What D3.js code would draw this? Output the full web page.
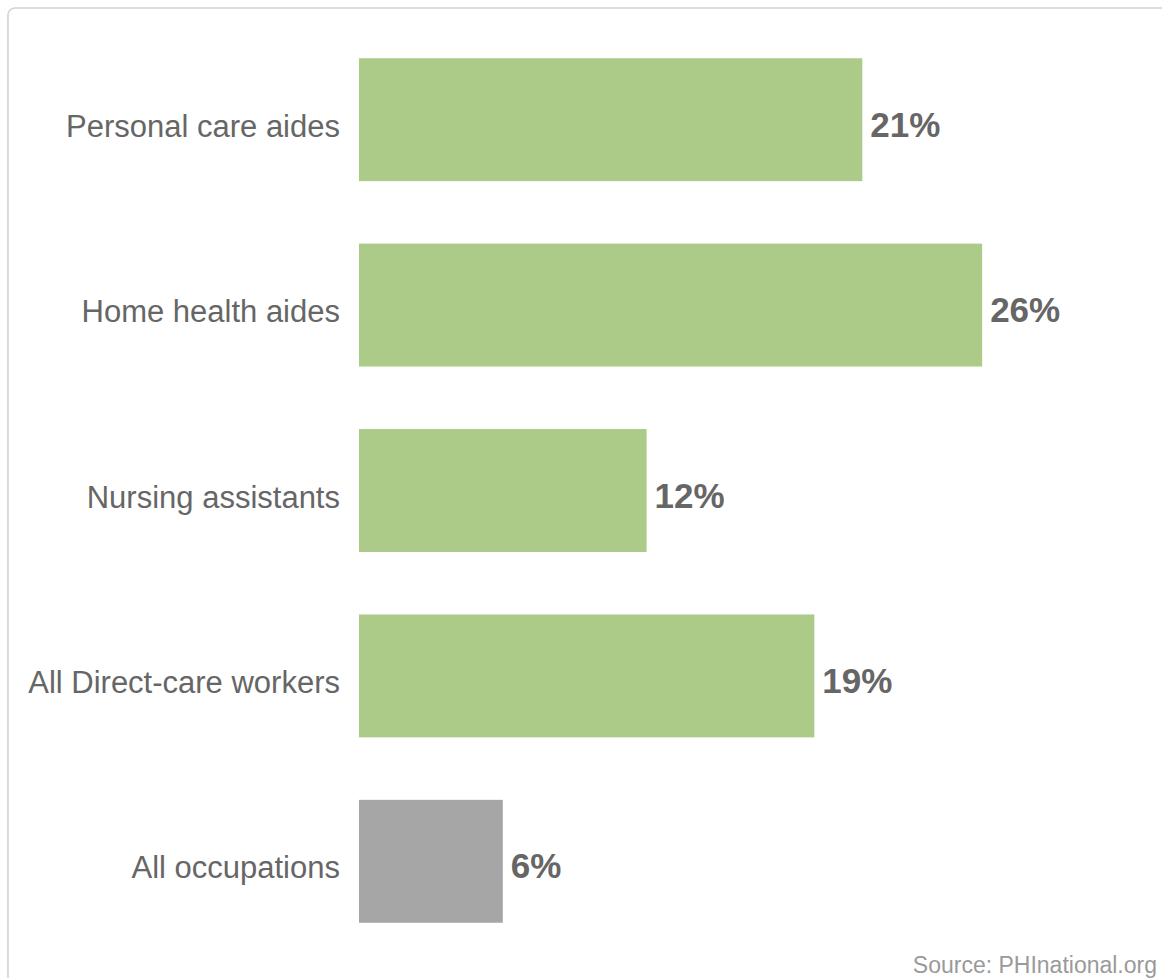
<!DOCTYPE html>
<html>
<head>
<meta charset="utf-8">
<script src="https://cdn.jsdelivr.net/npm/d3@7"></script>
<style>
  html, body { margin: 0; padding: 0; background: #fff; }
  svg { display: block; }
  text { font-family: "Liberation Sans", Arial, sans-serif; }
</style>
</head>
<body>
<svg id="chart" width="1162" height="978"></svg>
<script>
// Share of workers by occupation (percent)
const categories = [
  "Personal care aides",
  "Home health aides",
  "Nursing assistants",
  "All Direct-care workers",
  "All occupations"
];
const values = [21, 26, 12, 19, 6];
const barColors = ["#adcb88", "#adcb88", "#adcb88", "#adcb88", "#a6a6a6"];
const sourceNote = "Source: PHInational.org";

const svg = d3.select("#chart");
const W = 1162, H = 978;

// Light rounded frame running off the right and bottom edges
svg.append("rect")
  .attr("x", 8).attr("y", 8)
  .attr("width", W + 40).attr("height", H + 40)
  .attr("rx", 7).attr("ry", 7)
  .attr("fill", "#fff")
  .attr("stroke", "#d2d2d2")
  .attr("stroke-width", 1.6);

const data = categories.map((c, i) => ({ cat: c, val: values[i], color: barColors[i] }));

const x = d3.scaleLinear().domain([0, 30]).range([359, 1078]);
const y = d3.scaleBand().domain(categories).range([27, 954]).paddingInner(0.337).paddingOuter(0.1685);

const g = svg.append("g");

g.selectAll("rect.bar")
  .data(data)
  .join("rect")
  .attr("class", "bar")
  .attr("x", x(0))
  .attr("y", d => y(d.cat))
  .attr("width", d => x(d.val) - x(0))
  .attr("height", y.bandwidth())
  .attr("fill", d => d.color);

// Category labels to the left of each bar
g.selectAll("text.cat")
  .data(data)
  .join("text")
  .attr("class", "cat")
  .attr("x", x(0) - 19)
  .attr("y", d => y(d.cat) + y.bandwidth() / 2 + 17)
  .attr("text-anchor", "end")
  .attr("font-size", 31)
  .attr("fill", "#666")
  .text(d => d.cat);

// Value labels at the end of each bar
g.selectAll("text.val")
  .data(data)
  .join("text")
  .attr("class", "val")
  .attr("x", d => x(d.val) + 8)
  .attr("y", d => y(d.cat) + y.bandwidth() / 2 + 17)
  .attr("font-size", 35)
  .attr("font-weight", "bold")
  .attr("fill", "#666")
  .text(d => d.val + "%");

svg.append("text")
  .attr("x", 1157)
  .attr("y", 973)
  .attr("text-anchor", "end")
  .attr("font-size", 23)
  .attr("fill", "#9a9a9a")
  .text(sourceNote);
</script>
</body>
</html>
